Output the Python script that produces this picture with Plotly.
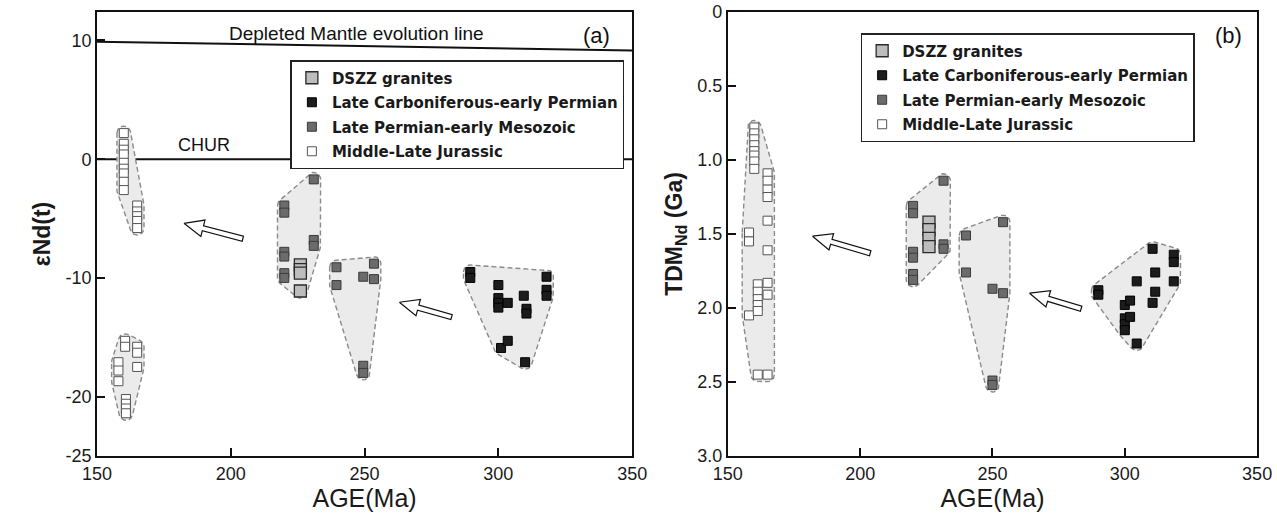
import numpy as np
import plotly.graph_objects as go

# ---------------- data: panel (a)  eNd(t) vs AGE ----------------
a_jur1_age = [160, 160, 160, 160, 160, 160, 160, 160, 160, 165, 165, 165, 165, 165]
a_jur1_end = [2.2, 1.3, 0.8, 0.4, -0.3, -0.8, -1.2, -1.9, -2.6, -3.9, -4.4, -4.8, -5.2, -5.8]
a_jur2_age = [160.5, 160.5, 165, 165, 165, 158, 158, 158, 160.8, 160.8, 160.8, 160.8]
a_jur2_end = [-15.3, -15.8, -15.8, -16.3, -17.5, -17.1, -17.8, -18.7, -20.2, -20.6, -21.0, -21.4]
a_lp1_age = [220, 220, 220, 220, 220, 220, 231, 231, 231]
a_lp1_end = [-3.9, -4.5, -7.8, -8.2, -9.6, -10.0, -1.7, -6.8, -7.3]
a_lp2_age = [239.5, 239.5, 249.5, 249.5, 249.5, 253.5, 253.5]
a_lp2_end = [-9.1, -10.6, -9.9, -17.4, -18.0, -8.8, -10.1]
a_dszz_age = [226, 226, 226, 226]
a_dszz_end = [-8.9, -9.3, -9.6, -11.1]
a_lc_age = [289.5, 289.5, 300, 300, 300, 300, 303.5, 309.5, 310.5, 310.5, 318, 318, 318, 301, 303.5, 310]
a_lc_end = [-9.5, -10.0, -10.6, -11.7, -12.1, -12.5, -12.1, -11.5, -12.6, -13.0, -9.9, -11.0, -11.5, -15.9, -15.3, -17.1]
dm_age = [150, 350]
dm_end = [9.9, 9.15]
chur_age = [150, 350]
chur_end = [0, 0]
a_arrow_tail_age = [204.5, 282.5]
a_arrow_tail_end = [-6.7, -13.3]
a_arrow_tip_age = [182.5, 263.0]
a_arrow_tip_end = [-5.4, -12.05]

# ---------------- data: panel (b)  TDM vs AGE ----------------
b_jur_age = [160, 160, 160, 160, 160, 160, 160, 160,
             165, 165, 165, 165, 165, 165, 165, 165, 165,
             158, 158, 158,
             161.3, 161.3, 161.3, 161.3, 161.3, 161.3]
b_jur_tdm = [0.78, 0.82, 0.86, 0.90, 0.94, 0.97, 1.01, 1.06,
             1.09, 1.14, 1.20, 1.25, 1.41, 1.61, 1.83, 1.91, 2.45,
             1.49, 1.55, 2.05,
             1.84, 1.89, 1.94, 1.98, 2.02, 2.45]
b_lp1_age = [220, 220, 220, 220, 220, 220, 231.5, 231.5, 231.5]
b_lp1_tdm = [1.31, 1.36, 1.62, 1.66, 1.77, 1.81, 1.14, 1.57, 1.60]
b_lp2_age = [240, 240, 250, 250, 250, 254, 254]
b_lp2_tdm = [1.51, 1.76, 1.87, 2.49, 2.52, 1.42, 1.90]
b_dszz_age = [226, 226, 226, 226]
b_dszz_tdm = [1.42, 1.47, 1.53, 1.585]
b_lc_age = [290, 290, 300, 300, 300, 300, 302, 302, 304.5, 304.5, 310.5, 310.5, 311.5, 311.5, 318.5, 318.5, 318.5]
b_lc_tdm = [1.88, 1.91, 1.98, 2.07, 2.11, 2.15, 1.95, 2.06, 1.82, 2.24, 1.60, 1.965, 1.76, 1.89, 1.64, 1.69, 1.82]
b_arrow_tail_age = [203.8, 283.5]
b_arrow_tail_tdm = [1.63, 2.005]
b_arrow_tip_age = [182.0, 264.0]
b_arrow_tip_tdm = [1.515, 1.90]

labels = ["DSZZ granites", "Late Carboniferous-early Permian",
          "Late Permian-early Mesozoic", "Middle-Late Jurassic"]

# ---------------- layout geometry ----------------
W, H = 1277, 524
MT, MB = 12, 68
PH = H - MT - MB
dom_a = [84 / W, 632 / W]
dom_b = [730 / W, 1272 / W]
XR = [150, 350]
YR_A = [-25, 12.4]
YR_B = [3.0, 0.0]


class Panel:
    def __init__(self, dom, xr, yr):
        self.wpx = (dom[1] - dom[0]) * W
        self.xr, self.yr = xr, yr

    def to_px(self, x, y):
        x = np.asarray(x, float); y = np.asarray(y, float)
        px = (x - self.xr[0]) / (self.xr[1] - self.xr[0]) * self.wpx
        py = (self.yr[1] - y) / (self.yr[1] - self.yr[0]) * PH
        return px, py

    def from_px(self, px, py):
        x = self.xr[0] + np.asarray(px) / self.wpx * (self.xr[1] - self.xr[0])
        y = self.yr[1] - np.asarray(py) / PH * (self.yr[1] - self.yr[0])
        return x, y


PA = Panel(dom_a, XR, YR_A)
PB = Panel(dom_b, XR, YR_B)


def convex_hull(pts):
    pts = sorted(set(map(tuple, pts)))
    if len(pts) <= 2:
        return pts

    def cross(o, a, b):
        return (a[0] - o[0]) * (b[1] - o[1]) - (a[1] - o[1]) * (b[0] - o[0])
    lower, upper = [], []
    for p in pts:
        while len(lower) >= 2 and cross(lower[-2], lower[-1], p) <= 0:
            lower.pop()
        lower.append(p)
    for p in reversed(pts):
        while len(upper) >= 2 and cross(upper[-2], upper[-1], p) <= 0:
            upper.pop()
        upper.append(p)
    return lower[:-1] + upper[:-1]


def hull_xy(panel, xs, ys, r=7.0):
    px, py = panel.to_px(xs, ys)
    ang = np.linspace(0, 2 * np.pi, 24, endpoint=False)
    pts = []
    for a, b in zip(px, py):
        for t in ang:
            pts.append((round(a + r * np.cos(t), 3), round(b + r * np.sin(t), 3)))
    h = convex_hull(pts)
    h.append(h[0])
    hx, hy = panel.from_px([p[0] for p in h], [p[1] for p in h])
    return list(hx), list(hy)


def arrow_xy(panel, tail_x, tail_y, tip_x, tip_y, head_len=20, head_w=8.5, shaft_w=2.6):
    (x0, x1), (y0, y1) = panel.to_px([tail_x, tip_x], [tail_y, tip_y])
    d = np.array([x1 - x0, y1 - y0]); L = np.hypot(*d); u = d / L
    n = np.array([-u[1], u[0]])
    tail = np.array([x0, y0]); tip = np.array([x1, y1])
    base = tip - u * head_len
    poly = [tip, base + n * head_w, base + n * shaft_w, tail + n * shaft_w,
            tail - n * shaft_w, base - n * shaft_w, base - n * head_w, tip]
    px = [p[0] for p in poly]; py = [p[1] for p in poly]
    ax, ay = panel.from_px(px, py)
    return list(ax), list(ay)


fig = go.Figure()

HULL_FILL = "#ebebeb"
HULL_LINE = dict(color="#8a8a8a", width=1.4, dash="5px,3px")


def add_hull(panel, xs, ys, xa, ya):
    hx, hy = hull_xy(panel, xs, ys)
    fig.add_trace(go.Scatter(x=hx, y=hy, mode="lines", fill="toself", fillcolor=HULL_FILL,
                             line=HULL_LINE, xaxis=xa, yaxis=ya, showlegend=False,
                             hoverinfo="skip"))


def add_arrows(panel, tx, ty, hx, hy, xa, ya):
    for i in range(len(tx)):
        ax, ay = arrow_xy(panel, tx[i], ty[i], hx[i], hy[i])
        fig.add_trace(go.Scatter(x=ax, y=ay, mode="lines", fill="toself", fillcolor="white",
                                 line=dict(color="#111", width=1.2), xaxis=xa, yaxis=ya,
                                 showlegend=False, hoverinfo="skip"))


STY = {
    "dszz": dict(size=12, color="#bdbdbd", line=dict(color="#2a2a2a", width=1.3)),
    "lc": dict(size=9, color="#1c1c1c", line=dict(color="#000000", width=1)),
    "lp": dict(size=9, color="#6b6b6b", line=dict(color="#3a3a3a", width=1)),
    "jur": dict(size=9, color="#ffffff", line=dict(color="#555555", width=1)),
}


def add_points(xs, ys, key, name, rank, xa, ya, leg):
    fig.add_trace(go.Scatter(x=xs, y=ys, mode="markers", name=name,
                             marker=dict(symbol="square", **STY[key]),
                             xaxis=xa, yaxis=ya, legend=leg, legendrank=rank,
                             legendgroup=leg + key))


# ---- panel (a) ----
fig.add_trace(go.Scatter(x=dm_age, y=dm_end, mode="lines", line=dict(color="#111", width=2),
                         showlegend=False, hoverinfo="skip", xaxis="x", yaxis="y"))
fig.add_trace(go.Scatter(x=chur_age, y=chur_end, mode="lines", line=dict(color="#111", width=2),
                         showlegend=False, hoverinfo="skip", xaxis="x", yaxis="y"))
add_hull(PA, a_jur1_age, a_jur1_end, "x", "y")
add_hull(PA, a_jur2_age, a_jur2_end, "x", "y")
add_hull(PA, a_lp1_age + a_dszz_age, a_lp1_end + a_dszz_end, "x", "y")
add_hull(PA, a_lp2_age, a_lp2_end, "x", "y")
add_hull(PA, a_lc_age, a_lc_end, "x", "y")
add_arrows(PA, a_arrow_tail_age, a_arrow_tail_end, a_arrow_tip_age, a_arrow_tip_end, "x", "y")
add_points(a_jur1_age + a_jur2_age, a_jur1_end + a_jur2_end, "jur", labels[3], 4, "x", "y", "legend")
add_points(a_lp1_age + a_lp2_age, a_lp1_end + a_lp2_end, "lp", labels[2], 3, "x", "y", "legend")
add_points(a_lc_age, a_lc_end, "lc", labels[1], 2, "x", "y", "legend")
add_points(a_dszz_age, a_dszz_end, "dszz", labels[0], 1, "x", "y", "legend")

# ---- panel (b) ----
add_hull(PB, b_jur_age, b_jur_tdm, "x2", "y2")
add_hull(PB, b_lp1_age + b_dszz_age, b_lp1_tdm + b_dszz_tdm, "x2", "y2")
add_hull(PB, b_lp2_age, b_lp2_tdm, "x2", "y2")
add_hull(PB, b_lc_age, b_lc_tdm, "x2", "y2")
add_arrows(PB, b_arrow_tail_age, b_arrow_tail_tdm, b_arrow_tip_age, b_arrow_tip_tdm, "x2", "y2")
add_points(b_jur_age, b_jur_tdm, "jur", labels[3], 4, "x2", "y2", "legend2")
add_points(b_lp1_age + b_lp2_age, b_lp1_tdm + b_lp2_tdm, "lp", labels[2], 3, "x2", "y2", "legend2")
add_points(b_lc_age, b_lc_tdm, "lc", labels[1], 2, "x2", "y2", "legend2")
add_points(b_dszz_age, b_dszz_tdm, "dszz", labels[0], 1, "x2", "y2", "legend2")

TICKF = dict(family="Liberation Sans, Arial, sans-serif", size=18, color="#1a1a1a")
AX = dict(ticks="inside", ticklen=8, tickwidth=1.5, tickcolor="#111", showline=True,
          linecolor="#111", linewidth=2, mirror=True, showgrid=False, zeroline=False,
          tickfont=TICKF)
xticks = [150, 200, 250, 300, 350]
XT = dict(text="AGE(Ma)", font=dict(family="Liberation Sans, Arial", size=25, color="#1a1a1a"),
          standoff=6)

LEG = dict(xanchor="left", yanchor="top", bgcolor="white", bordercolor="#222", borderwidth=1.5,
           font=dict(family="DejaVu Sans", size=15, color="#1a1a1a", weight="bold"),
           traceorder="grouped", tracegroupgap=2, itemsizing="trace")

fig.update_layout(
    width=W, height=H, margin=dict(l=0, r=0, t=MT, b=MB),
    paper_bgcolor="white", plot_bgcolor="white",
    showlegend=True,
    xaxis=dict(domain=dom_a, range=XR, tickvals=xticks, title=XT, anchor="y", **AX),
    yaxis=dict(domain=[0, 1], range=YR_A, tickvals=[-25, -20, -10, 0, 10],
               ticktext=["-25", "-20", "-10", "0", "10"], anchor="x",
               title=dict(text="<b>εNd(t)</b>", font=dict(family="Liberation Sans, Arial", size=23, color="#1a1a1a"), standoff=8),
               **AX),
    xaxis2=dict(domain=dom_b, range=XR, tickvals=xticks, title=XT, anchor="y2", **AX),
    yaxis2=dict(domain=[0, 1], range=YR_B, tickvals=[0, 0.5, 1.0, 1.5, 2.0, 2.5, 3.0],
                ticktext=["0", "0.5", "1.0", "1.5", "2.0", "2.5", "3.0"], anchor="x2",
                title=dict(text="<b>TDM<sub>Nd</sub> (Ga)</b>", font=dict(family="Liberation Sans, Arial", size=23, color="#1a1a1a"), standoff=8),
                **AX),
    legend=dict(x=282 / W, y=(MT + PH - 60) / PH, **LEG),
    legend2=dict(x=866 / W, y=(MT + PH - 33) / PH, **LEG),
    annotations=[
        dict(text="Depleted Mantle evolution line", x=247, y=10.55, xref="x", yref="y",
             showarrow=False, font=dict(family="Liberation Sans, Arial", size=19, color="#111")),
        dict(text="(a)", x=336.5, y=10.4, xref="x", yref="y", showarrow=False,
             font=dict(family="Liberation Sans, Arial", size=22, color="#111")),
        dict(text="CHUR", x=190, y=1.2, xref="x", yref="y", showarrow=False,
             font=dict(family="Liberation Sans, Arial", size=18, color="#111")),
        dict(text="(b)", x=339, y=0.16, xref="x2", yref="y2", showarrow=False,
             font=dict(family="Liberation Sans, Arial", size=22, color="#111")),
    ],
)

fig.write_html("out.html")
